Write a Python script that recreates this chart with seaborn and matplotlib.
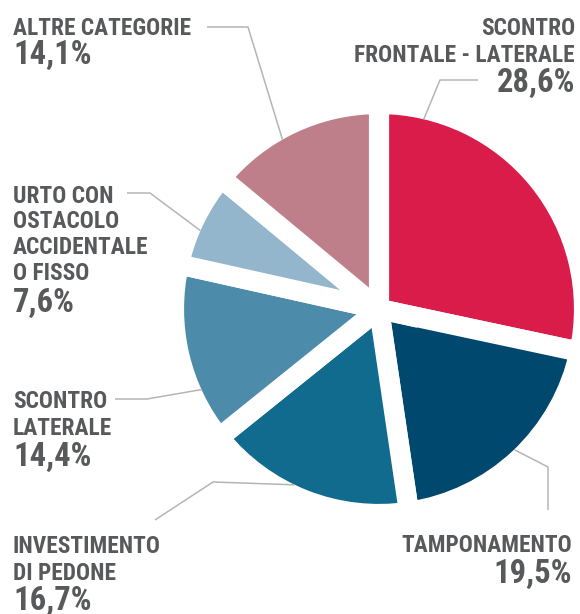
import matplotlib
matplotlib.use("Agg")
import matplotlib.pyplot as plt
import numpy as np
import seaborn as sns

# Incidenti per tipologia (quote percentuali)
categorie = [
    "SCONTRO\nFRONTALE - LATERALE",
    "TAMPONAMENTO",
    "INVESTIMENTO\nDI PEDONE",
    "SCONTRO\nLATERALE",
    "URTO CON\nOSTACOLO\nACCIDENTALE\nO FISSO",
    "ALTRE CATEGORIE",
]
valori = [28.6, 19.5, 16.7, 14.4, 7.6, 14.1]
etichette_valori = ["28,6%", "19,5%", "16,7%", "14,4%", "7,6%", "14,1%"]
colori = ["#D91C4A", "#00486D", "#116B8F", "#4D8BAB", "#94B6CD", "#BE7F8A"]

sns.set_theme(style="white")
plt.rcParams["font.family"] = ["Roboto Condensed", "DejaVu Sans"]
FONT = dict(fontweight="bold", fontstretch="condensed")

W, H = 580, 614
fig = plt.figure(figsize=(W / 100, H / 100), dpi=100)
ax = fig.add_axes([0, 0, 1, 1])

CX, CY, R = 379, H - 309, 205
GAP = 14.5  # white separation between wedges, in points
wedges, _ = ax.pie(
    valori,
    colors=colori,
    startangle=90,
    counterclock=False,
    center=(CX, CY),
    radius=R,
    wedgeprops=dict(edgecolor="white", linewidth=GAP),
)
ax.set_xlim(0, W)
ax.set_ylim(0, H)
ax.set_aspect("equal")
ax.axis("off")

TXT = "#58595B"
LINE = "#B5B5B5"
R_VIS = R - GAP / 72 * 100 / 2  # visible outer radius of the coloured wedges

# label placement: x, alignment, baselines of the name lines, baseline of the value
layout = [
    (575, "right", [35, 62], 92),
    (572, "right", [552], 583),
    (13, "left", [553, 580], 610),
    (13, "left", [408, 435], 466),
    (13, "left", [203, 228, 254, 280], 312),
    (13, "left", [35], 64),
]
# leader lines: position along the wedge span, then path points
leaders = [
    (0.13, [(440, 80), (478, 80)]),
    (0.49, [(548, 467), (548, 510)]),
    (0.57, [(213, 482), (155, 520)]),
    (0.28, [(147, 399), (115, 399)]),
    (0.41, [(150, 193), (127, 193)]),
    (0.41, [(248, 27), (207, 27)]),
]

for w, lab, val, (x, ha, bls, vb), (frac, pts) in zip(
    wedges, categorie, etichette_valori, layout, leaders
):
    for line, b in zip(lab.split("\n"), bls):
        ax.text(x, H - b, line, ha=ha, va="baseline", fontsize=16.8,
                color=TXT, **FONT)
    ax.text(x, H - vb, val, ha=ha, va="baseline", fontsize=23.5,
            color=TXT, **FONT)

    ang = np.deg2rad(w.theta2 - frac * (w.theta2 - w.theta1))
    x0 = CX + R_VIS * np.cos(ang)
    y0 = CY + R_VIS * np.sin(ang)
    xs = [x0] + [p[0] for p in pts]
    ys = [y0] + [H - p[1] for p in pts]
    ax.plot(xs, ys, color=LINE, lw=1.1, zorder=3, solid_capstyle="butt")

fig.savefig("out.png", dpi=100)
